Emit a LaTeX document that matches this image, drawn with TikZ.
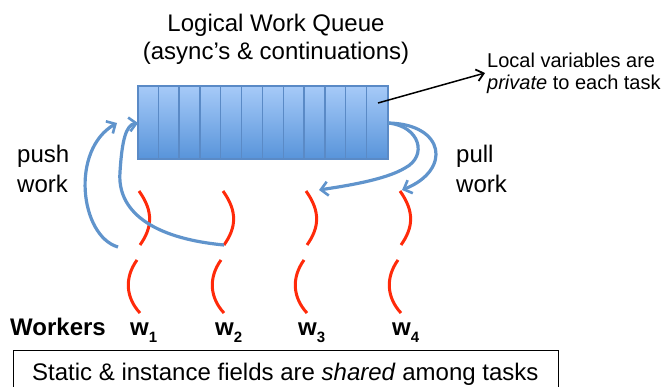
\documentclass[tikz,border=0pt]{standalone}
\usepackage{fontspec}
\setmainfont{Liberation Sans}
\usetikzlibrary{arrows.meta,calc}
\definecolor{qtop}{HTML}{A6CAF8}
\definecolor{qbot}{HTML}{5894DA}
\definecolor{qline}{HTML}{5A8AC6}
\definecolor{flow}{HTML}{6094CC}
\definecolor{wred}{HTML}{FF2A0A}
\tikzset{
  queuebox/.style={draw=qline, line width=1.3pt, top color=qtop, bottom color=qbot, minimum width=250pt, minimum height=73pt, inner sep=0pt},
  flowarrow/.style={draw=flow, line width=3.2pt, -{Straight Barb[length=7pt,width=14pt,line width=2.6pt]}},
  thread/.style={draw=wred, line width=3pt},
  big/.style={font=\fontsize{24}{28}\selectfont, inner sep=0pt},
  small/.style={font=\fontsize{20}{22}\selectfont, inner sep=0pt},
  wlabel/.style={font=\fontsize{24}{28}\selectfont\bfseries, inner sep=0pt, anchor=base west},
}
\newcommand{\wsub}[1]{w\raisebox{-7pt}{\fontsize{15}{15}\selectfont #1}}
\begin{document}
\begin{tikzpicture}[x=1pt,y=-1pt]
\useasboundingbox (0,0) rectangle (668,387);
% titles
\node[big, anchor=base] (t1) at (276,32) {Logical Work Queue};
\node[big, anchor=base] (t2) at (276,60) {(async’s \& continuations)};
% queue
\node[queuebox] (q) at (263,122.5) {};
\foreach \i in {1,...,11}{
  \draw[qline, line width=1.3pt] ($(q.north west)+(\i*250/12,0)$) -- ($(q.south west)+(\i*250/12,0)$);
}
% local variables note
\node[small, anchor=base west] (lv1) at (487,68) {Local variables are};
\node[small, anchor=base west] (lv2) at (487,90) {\textit{private} to each task};
\coordinate (lvstart) at (378,103);
\coordinate (lvend) at (485,73);
\draw[black, line width=1.5pt, -{Straight Barb[length=7pt,width=12pt,line width=1.8pt]}] (lvstart) -- (lvend);
% push / pull labels
\node[big, anchor=base west] (push1) at (17,163) {push};
\node[big, anchor=base west] (push2) at (17,193) {work};
\node[big, anchor=base west] (pull1) at (456,163) {pull};
\node[big, anchor=base west] (pull2) at (456,193) {work};
% worker threads
\foreach \n/\x in {1/139,2/223,3/306,4/400}{
  \coordinate (top\n) at (\x,191);
  \coordinate (mid\n) at (\x+1,245);
  \draw[thread] (top\n) .. controls (\x+15,212) and (\x+13,228) .. (mid\n);
  \draw[thread] (\x-2,260) .. controls (\x-15,278) and (\x-13,298) .. (\x+1,313);
}
% push arrows
\coordinate (pstart) at (118,247);
\coordinate (qin1) at (117,123);
\coordinate (qin2) at (138,123);
\draw[flowarrow] (pstart) .. controls (80,236) and (70,150) .. (qin1);
\draw[flowarrow] (mid2) .. controls (150,238) and (117,210) .. (120,172) .. controls (122,140) and (126,125) .. (qin2);
% pull arrows
\coordinate (qout) at (388,123);
\draw[flowarrow] (qout) .. controls (420,126) and (428,156) .. (405,168) .. controls (385,180) and (345,186) .. ($(top3)+(13,-1)$);
\draw[flowarrow] (qout) .. controls (445,124) and (452,170) .. ($(top4)+(2,-1)$);
% labels
\node[wlabel] (workers) at (10,335) {Workers};
\node[wlabel] (w1) at (130,335) {\wsub{1}};
\node[wlabel] (w2) at (215,335) {\wsub{2}};
\node[wlabel] (w3) at (298,335) {\wsub{3}};
\node[wlabel] (w4) at (392,335) {\wsub{4}};
% shared box
\node[draw, line width=1.3pt, minimum width=545pt, minimum height=38pt, anchor=north west, inner sep=0pt] (box) at (13,350) {};
\node[big, anchor=base west] (shared) at (32,380) {Static \& instance fields are \textit{shared} among tasks};
\end{tikzpicture}
\end{document}
